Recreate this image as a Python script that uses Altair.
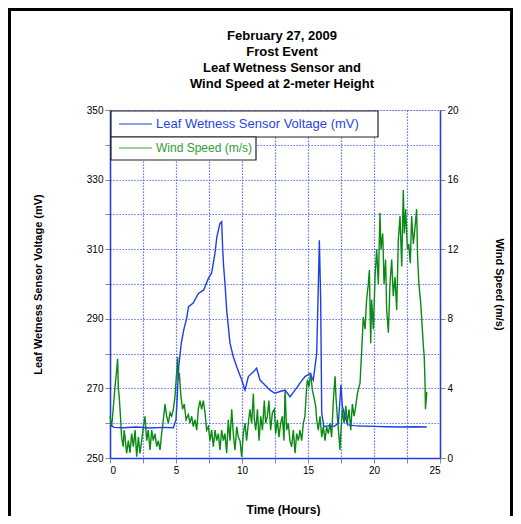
import altair as alt
import pandas as pd

# ---------------- data ----------------
title_lines = ["February 27, 2009", "Frost Event", "Leaf Wetness Sensor and",
               "Wind Speed at 2-meter Height"]

leaf_hours = [0, 0.3, 1, 2, 3, 4, 4.8, 5.0, 5.1, 5.2, 5.4, 5.6, 5.8, 5.95, 6.3, 6.7, 7.1,
              7.45, 7.7, 7.95, 8.1, 8.33, 8.46, 8.53, 8.6, 8.71, 8.84, 9.09, 9.34, 9.6,
              9.98, 10.23, 10.48, 10.86, 11.11, 11.36, 11.74, 12.12, 12.5, 12.88, 13.26,
              13.64, 14.02, 14.39, 14.77, 15.15, 15.4, 15.66, 15.78, 15.86, 15.96, 16.04,
              16.2, 16.6, 17.0, 17.3, 17.5, 17.6, 17.8, 18.0, 18.5, 19, 20, 21, 22, 23, 24]
leaf_mv = [259.5, 258.8, 258.7, 258.9, 258.6, 258.8, 258.7, 261, 268, 276, 283, 287, 290,
           293.5, 294.5, 297.3, 298.3, 301.6, 303.1, 308.8, 313.6, 317.4, 317.9, 310.7, 305.5,
           300.2, 292.5, 283, 279.1, 276.2, 272.4, 269.5, 273.4, 274.8, 275.8, 272.4, 271,
           269.5, 268.6, 269.1, 269.5, 267.6, 269.5, 271.5, 273.4, 274.3, 272.4, 280.1, 299.2,
           312.6, 295.4, 262.8, 259, 259.3, 259.1, 260, 271, 265, 262, 259.5, 259.3, 259.2,
           259.1, 259.0, 258.9, 259.0, 258.9]

wind_hours = [0.0, 0.13, 0.25, 0.38, 0.5, 0.58, 0.63, 0.7, 0.76, 0.88, 1.0, 1.07, 1.14, 1.26,
              1.39, 1.52, 1.64, 1.77, 1.9, 2.02, 2.15, 2.27, 2.4, 2.53, 2.65, 2.78, 2.9, 3.03,
              3.16, 3.28, 3.41, 3.54, 3.66, 3.79, 3.91, 4.04, 4.17, 4.29, 4.42, 4.55, 4.67,
              4.8, 4.92, 5.05, 5.12, 5.18, 5.25, 5.38, 5.5, 5.63, 5.76, 5.93, 6.06, 6.19, 6.31,
              6.44, 6.57, 6.69, 6.82, 6.94, 7.07, 7.2, 7.32, 7.45, 7.58, 7.7, 7.83, 7.96, 8.08,
              8.21, 8.33, 8.46, 8.59, 8.71, 8.84, 8.96, 9.09, 9.22, 9.34, 9.47, 9.6, 9.72,
              9.85, 9.97, 10.1, 10.23, 10.35, 10.48, 10.6, 10.73, 10.86, 10.93, 11.04, 11.17,
              11.29, 11.42, 11.55, 11.69, 11.79, 11.92, 12.04, 12.17, 12.3, 12.45, 12.55,
              12.68, 12.8, 12.93, 13.06, 13.18, 13.26, 13.38, 13.51, 13.63, 13.76, 13.89,
              14.02, 14.14, 14.27, 14.39, 14.52, 14.65, 14.77, 14.85, 14.95, 15.08, 15.2,
              15.33, 15.45, 15.58, 15.66, 15.78, 15.91, 16.04, 16.16, 16.29, 16.41, 16.54,
              16.67, 16.79, 16.92, 17.05, 17.12, 17.22, 17.35, 17.42, 17.5, 17.6, 17.73,
              17.86, 17.98, 18.11, 18.24, 18.36, 18.49, 18.62, 18.74, 18.87, 18.94, 19.07,
              19.19, 19.32, 19.44, 19.57, 19.65, 19.75, 19.82, 19.95, 20.08, 20.2, 20.33,
              20.45, 20.53, 20.66, 20.76, 20.88, 20.96, 21.09, 21.21, 21.34, 21.46, 21.59,
              21.72, 21.84, 21.97, 22.1, 22.22, 22.3, 22.4, 22.53, 22.63, 22.75, 22.85,
              22.98, 23.1, 23.23, 23.3, 23.4, 23.54, 23.64, 23.74, 23.8, 23.86, 23.9, 24.0]
wind_ms = [2.4, 1.8, 2.9, 4.1, 5.0, 5.7, 4.0, 3.5, 2.8, 1.2, 0.65, 1.6, 1.2, 0.27, 1.0, 0.3,
           1.4, 0.65, 1.6, 0.07, 1.2, 0.27, 1.0, 1.8, 2.4, 1.0, 1.6, 0.46, 1.6, 1.0, 1.4, 0.65,
           1.0, 0.46, 1.4, 2.2, 3.1, 2.4, 2.0, 2.6, 2.4,
           2.8, 3.5, 4.9, 5.8, 4.5, 4.9, 3.5, 2.8, 3.1, 2.2, 2.5, 2.0, 2.4, 1.8, 2.2, 1.6, 2.8,
           3.3, 2.8, 3.3, 2.6, 1.6, 1.8, 1.0, 1.6, 0.65, 1.6, 1.0, 1.4, 0.46, 1.6, 1.0, 1.4,
           0.27, 2.2, 1.0, 2.8, 1.4, 0.46, 1.8, 1.2,
           1.0, 0.07, 1.4, 2.0, 1.0, 2.0, 2.8, 2.0, 3.7, 2.2, 1.6, 2.8, 1.0, 2.4, 1.6, 3.3,
           2.0, 2.4, 3.3, 1.6, 2.6, 2.8, 1.4, 2.2, 1.2, 2.0, 2.4, 1.0, 3.9, 1.6, 2.0, 1.0,
           0.65, 1.6, 0.27, 1.4, 1.0, 1.6, 1.0, 2.0,
           2.4, 3.5, 4.5, 4.1, 4.9, 3.9, 3.5, 3.0, 2.2, 1.6, 2.4, 1.2, 1.8, 1.0, 1.8, 1.4,
           2.0, 1.2, 3.3, 4.7, 3.5, 2.4, 1.2, 0.46, 1.6, 2.8, 2.0, 3.0, 2.0, 2.8, 1.6, 3.1,
           2.4, 3.0, 3.7, 4.1, 4.3,
           6.2, 8.1, 7.4, 9.1, 10.0, 10.8, 6.6, 9.1, 7.4, 10.4, 12.0, 10.0, 14.1, 12.0, 12.9,
           10.0, 11.4, 8.5, 7.2, 10.0, 11.4, 9.3, 10.4, 8.5, 12.5, 13.9, 11.0, 15.4, 12.9,
           14.3, 12.0, 12.3, 11.2, 13.9, 12.3, 13.2, 14.3, 11.6, 10.0, 8.9, 7.7, 6.4, 5.9,
           4.5, 2.8, 3.8]

legend_labels = ["Leaf Wetness Sensor Voltage (mV)", "Wind Speed (m/s)"]
x_grid = [0, 2.5, 5, 7.5, 10, 12.5, 15, 17.5, 20, 22.5, 25]
left_grid = [250, 260, 270, 280, 290, 300, 310, 320, 330, 340, 350]
right_ticks = [0, 4, 8, 12, 16, 20]

BLUE = "#1f3fe6"
GREEN = "#0b8a12"
GRID = "#2040ff"
FONT = "Liberation Sans"

leaf_df = pd.DataFrame({"h": leaf_hours, "mv": leaf_mv})
wind_df = pd.DataFrame({"h": wind_hours, "w": wind_ms})
one = pd.DataFrame({"k": [0]})

grid_style = dict(gridColor=GRID, gridDash=[1.2, 1.8], gridWidth=1.2, gridOpacity=0.9,
                  domainColor=BLUE, domainWidth=1.5)

x_enc = alt.X("h:Q", scale=alt.Scale(domain=[0, 25], nice=False),
              axis=alt.Axis(values=x_grid, grid=True, title="Time (Hours)",
                            labelExpr="datum.value % 5 == 0 ? datum.label : ''",
                            titlePadding=29, titleX=173, titleFontSize=12, **grid_style))

wind_line = alt.Chart(wind_df).mark_line(color=GREEN, strokeWidth=1.4).encode(
    x=x_enc,
    y=alt.Y("w:Q", scale=alt.Scale(domain=[0, 20], nice=False),
            axis=alt.Axis(orient="right", values=right_ticks, grid=False,
                          title="Wind Speed (m/s)", titlePadding=35,
                          domainColor=BLUE, domainWidth=1.5)),
)

leaf_line = alt.Chart(leaf_df).mark_line(color=BLUE, strokeWidth=1.4).encode(
    x=x_enc,
    y=alt.Y("mv:Q", scale=alt.Scale(domain=[250, 350], nice=False, zero=False),
            axis=alt.Axis(orient="left", values=left_grid, grid=True,
                          labelExpr="(datum.value - 250) % 20 == 0 ? datum.label : ''",
                          title="Leaf Wetness Sensor Voltage (mV)", titlePadding=43,
                          **grid_style)),
)

frame = alt.Chart(one).mark_rect(filled=False, stroke="black", strokeWidth=3).encode(
    x=alt.value(-100.5), x2=alt.value(401.5), y=alt.value(-100.5), y2=alt.value(460))

box1 = alt.Chart(one).mark_rect(fill="white", stroke="#222", strokeWidth=1.2).encode(
    x=alt.value(1), x2=alt.value(268), y=alt.value(1), y2=alt.value(27))
box2 = alt.Chart(one).mark_rect(fill="white", stroke="#222", strokeWidth=1.2).encode(
    x=alt.value(1), x2=alt.value(146), y=alt.value(27), y2=alt.value(50))
sw1 = alt.Chart(one).mark_rule(color=BLUE, strokeWidth=1.2).encode(
    x=alt.value(9), x2=alt.value(42), y=alt.value(14))
sw2 = alt.Chart(one).mark_rule(color="#3aa83a", strokeWidth=1.2).encode(
    x=alt.value(9), x2=alt.value(42), y=alt.value(38))
t1 = alt.Chart(one).mark_text(text=legend_labels[0], color="#2846e6", align="left",
                              baseline="middle", fontSize=13, font=FONT).encode(
    x=alt.value(46), y=alt.value(14))
t2 = alt.Chart(one).mark_text(text=legend_labels[1], color="#2e9e34", align="left",
                              baseline="middle", fontSize=12, font=FONT).encode(
    x=alt.value(46), y=alt.value(38))

title_y = [-70.5, -54.5, -38.3, -22]
titles = [
    alt.Chart(one).mark_text(text=txt, align="center", baseline="alphabetic",
                             fontSize=13, fontWeight="bold", font=FONT, color="black").encode(
        x=alt.value(172), y=alt.value(yy))
    for txt, yy in zip(title_lines, title_y)
]

chart = alt.layer(wind_line, leaf_line, frame, box1, box2, sw1, sw2, t1, t2, *titles).resolve_scale(
    y="independent"
).properties(
    width=330, height=348,
    padding={"left": 102, "top": 102, "right": 73, "bottom": 58},
    autosize=alt.AutoSizeParams(type="none"),
).configure_view(
    stroke=BLUE, strokeWidth=1.5
).configure_axis(
    labelFont=FONT, labelFontSize=9, labelFontWeight="bold", labelColor="#333",
    labelPadding=9, ticks=False,
    titleFont=FONT, titleFontSize=11.5, titleFontWeight="bold", titleColor="black",
).configure(background="white")

chart.save("out.html", embed_options={"renderer": "svg", "actions": False})
